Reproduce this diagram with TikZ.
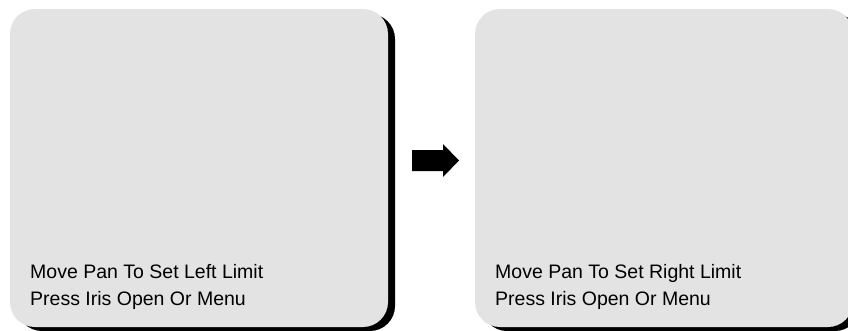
\documentclass[tikz,border=0pt]{standalone}
\usepackage{fontspec}
\setmainfont{Liberation Sans}
\definecolor{panel}{HTML}{E3E3E3}
\tikzset{
  screen/.style={fill=panel, draw=none, rounded corners=25pt},
  shade/.style={fill=black, draw=none, rounded corners=25pt},
  msg/.style={anchor=base west, align=left, font=\fontsize{19.5}{27}\selectfont, inner sep=0pt},
  bigarrow/.style={fill=black, draw=none}
}
\begin{document}
\begin{tikzpicture}[x=1pt,y=-1pt]
\useasboundingbox (0,0) rectangle (848,330);
\begin{scope}
\clip (0,0) rectangle (848,330);
\fill[shade] (17,14) rectangle (395,331);
\fill[screen] (10,9) rectangle (388,327);
\fill[shade] (482,14) rectangle (860,331);
\fill[screen] (475,9) rectangle (853,327);
\end{scope}
\node[msg] (left) at (30,305) {Move Pan To Set Left Limit\\Press Iris Open Or Menu};
\node[msg] (right) at (495,305) {Move Pan To Set Right Limit\\Press Iris Open Or Menu};
\fill[bigarrow] (412,150) -- (443,150) -- (443,144) -- (459,160.5) -- (443,177) -- (443,171) -- (412,171) -- cycle;
\end{tikzpicture}
\end{document}
